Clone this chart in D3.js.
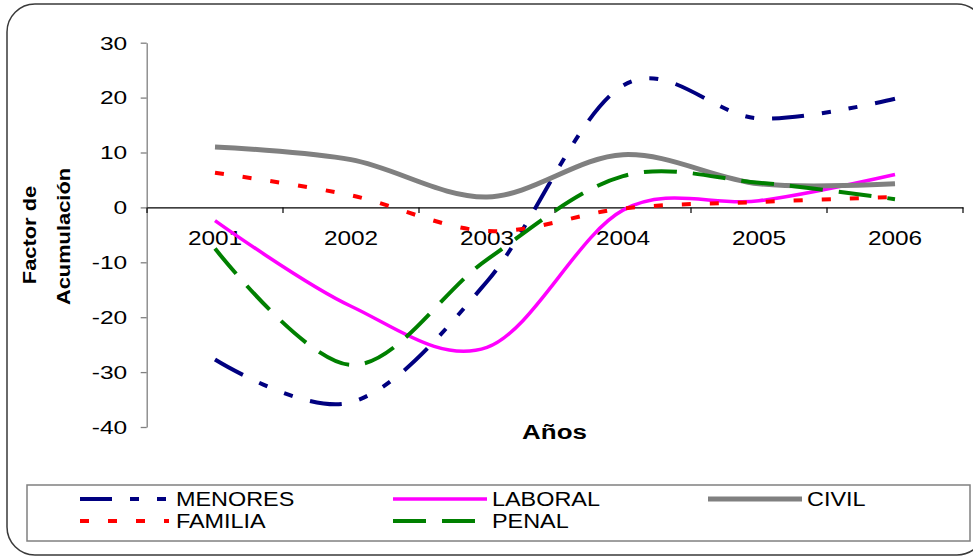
<!DOCTYPE html>
<html>
<head>
<meta charset="utf-8">
<script src="https://cdn.jsdelivr.net/npm/d3@7"></script>
<style>
  html, body { margin: 0; padding: 0; background: #ffffff; }
  svg { display: block; font-family: "Liberation Sans", Arial, sans-serif; }
</style>
</head>
<body>
<svg id="chart" width="973" height="556"></svg>
<script>
// ---- data ----
const years = ["2001", "2002", "2003", "2004", "2005", "2006"];
const yTicks = [-40, -30, -20, -10, 0, 10, 20, 30];
const seriesNames = ["MENORES", "LABORAL", "CIVIL", "FAMILIA", "PENAL"];
const menores = [-27.7, -35.5, -13.5, 22.2, 16.2, 19.8];
const laboral = [-2.4, -18.0, -25.5, -0.5, 1.2, 6.0];
const civil   = [11.0, 8.7, 1.9, 9.6, 4.3, 4.3];
const familia = [6.3, 2.2, -4.3, -0.2, 1.0, 1.9];
const penal   = [-7.5, -28.7, -9.5, 5.7, 4.5, 1.5];
const seriesValues = [menores, laboral, civil, familia, penal];

// ---- styles ----
const styles = {
  MENORES: { color: "#000080", width: 4, dash: "32,18,9,18,9,18" },
  LABORAL: { color: "#FF00FF", width: 3.5, dash: null },
  CIVIL:   { color: "#808080", width: 5, dash: null },
  FAMILIA: { color: "#FF0000", width: 4, dash: "9,19" },
  PENAL:   { color: "#008000", width: 4, dash: "33,16" }
};

const svg = d3.select("#chart");

function stretch(sel, k) {
  sel.each(function () {
    const w = this.getComputedTextLength();
    this.setAttribute("textLength", w * k);
    this.setAttribute("lengthAdjust", "spacingAndGlyphs");
  });
}

// outer border
svg.append("rect")
  .attr("x", 7).attr("y", 4).attr("width", 978).attr("height", 551)
  .attr("rx", 28).attr("ry", 28)
  .attr("fill", "#fff").attr("stroke", "#3a3a3a").attr("stroke-width", 1.5);

// scales
const x = d3.scaleBand().domain(years).range([147, 963]).padding(0);
const y = d3.scaleLinear().domain([-40, 30]).range([427, 42.7]);
const cx = d => x(d) + x.bandwidth() / 2;

// y axis
const yAxisG = svg.append("g")
  .attr("transform", "translate(146.7,0)")
  .call(d3.axisLeft(y).tickValues(yTicks).tickFormat(d => String(d))
    .tickSize(6).tickSizeOuter(0).tickPadding(13.5));
yAxisG.select(".domain").attr("stroke", "#808080").attr("stroke-width", 1.3);
yAxisG.selectAll(".tick line").attr("stroke", "#808080").attr("stroke-width", 1.3);
yAxisG.selectAll(".tick text")
  .attr("font-size", 17.5).attr("fill", "#000")
  .attr("font-family", "Liberation Sans, Arial, sans-serif")
  .attr("dy", "0.36em");
stretch(yAxisG.selectAll(".tick text"), 1.4);

// x axis at zero
const y0 = y(0);
const xAxisG = svg.append("g")
  .attr("transform", `translate(0,${y0})`)
  .call(d3.axisBottom(x).tickSize(0).tickSizeOuter(0).tickPadding(22.5));
xAxisG.select(".domain").attr("stroke", "#000").attr("stroke-width", 1.2);
xAxisG.selectAll(".tick text")
  .attr("font-size", 21).attr("fill", "#000")
  .attr("font-family", "Liberation Sans, Arial, sans-serif");
stretch(xAxisG.selectAll(".tick text"), 1.16);
// boundary tick marks
const bounds = years.map(d => x(d)).concat([x.range()[1]]);
svg.append("g").selectAll("line").data(bounds).join("line")
  .attr("x1", d => d).attr("x2", d => d)
  .attr("y1", y0).attr("y2", y0 + 5.5)
  .attr("stroke", "#000").attr("stroke-width", 1.2);

// axis titles
const yt = svg.append("g").attr("font-weight", "bold").attr("font-size", 19).attr("fill", "#000");
yt.append("text").attr("transform", "translate(36,235) rotate(-90)")
  .attr("text-anchor", "middle").text("Factor de");
yt.append("text").attr("transform", "translate(70,236.5) rotate(-90)")
  .attr("text-anchor", "middle").text("Acumulación");
stretch(yt.selectAll("text"), 1.15);

const xt = svg.append("text").attr("x", 554.5).attr("y", 439)
  .attr("text-anchor", "middle").attr("font-weight", "bold").attr("font-size", 19.5)
  .attr("fill", "#000").text("Años");
stretch(xt, 1.33);

// lines
const line = d3.line()
  .x((d, i) => cx(years[i]))
  .y(d => y(d))
  .curve(d3.curveCardinal.tension(0));

seriesNames.forEach((name, si) => {
  const s = styles[name];
  svg.append("path")
    .datum(seriesValues[si])
    .attr("d", line)
    .attr("fill", "none")
    .attr("stroke", s.color)
    .attr("stroke-width", s.width)
    .attr("stroke-dasharray", s.dash)
    .attr("stroke-linecap", "butt")
    .attr("stroke-linejoin", "round");
});

// legend
svg.append("rect")
  .attr("x", 27).attr("y", 485).attr("width", 943).attr("height", 56)
  .attr("fill", "#fff").attr("stroke", "#808080").attr("stroke-width", 1.5);

const colX = [80, 393, 708];
const rowY = [499, 521];
const sampleLen = 89;
const lg = svg.append("g");
seriesNames.forEach((name, i) => {
  const col = i % 3, row = Math.floor(i / 3);
  const s = styles[name];
  const g = lg.append("g").attr("transform", `translate(${colX[col]},${rowY[row]})`);
  g.append("line").attr("x1", 0).attr("x2", sampleLen + (col === 0 ? 0 : 5))
    .attr("y1", 0).attr("y2", 0)
    .attr("stroke", s.color).attr("stroke-width", s.width)
    .attr("stroke-dasharray", s.dash);
  const t = g.append("text").attr("x", (col === 0 ? 96 : 99)).attr("y", 6.5)
    .attr("font-size", 19.5).attr("fill", "#000").text(name);
  stretch(t, 1.2);
});
</script>
</body>
</html>
